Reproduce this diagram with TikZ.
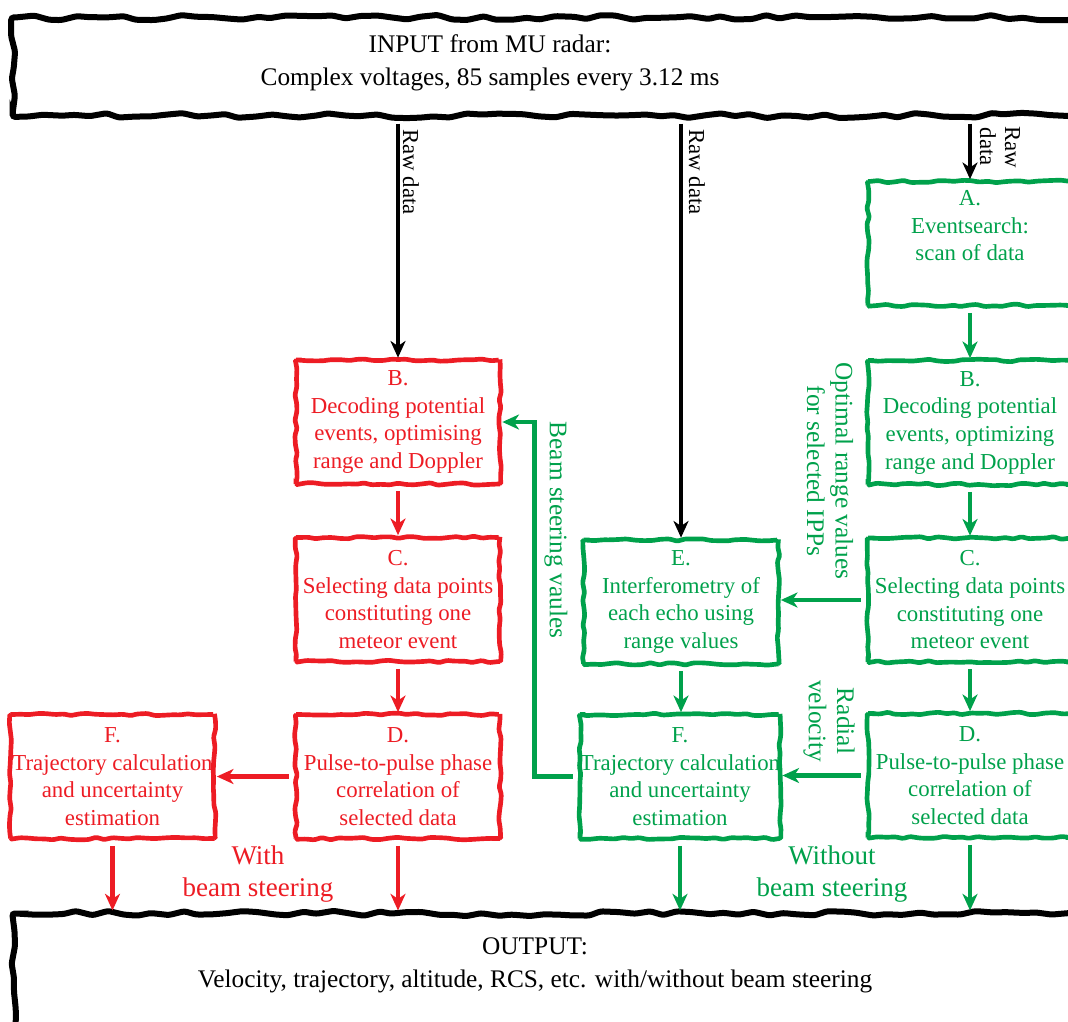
\documentclass[tikz,border=0pt]{standalone}
\usepackage{fontspec}
\setmainfont{Liberation Serif}
\usetikzlibrary{arrows.meta,decorations.pathmorphing}
\definecolor{mured}{RGB}{237,28,36}
\definecolor{mugreen}{RGB}{0,161,75}

\begin{document}
\begin{tikzpicture}[x=0.6pt, y=-0.6pt,
  sketchy/.style={decorate, decoration={random steps, segment length=5pt, amplitude=0.8pt}, rounded corners=0.8pt},
  stepbox/.style={sketchy, draw=#1, text=#1, line width=2.8pt, align=center, inner xsep=0pt,
    minimum width=122.4pt, minimum height=74.4pt, font=\fontsize{13.7}{16.6}\selectfont},
  iobox/.style={draw=black, line width=3.6pt, decorate, decoration={random steps, segment length=9pt, amplitude=1.6pt},
    rounded corners=1.5pt, minimum width=652pt},
  iotext/.style={align=center, font=\fontsize{15.2}{20}\selectfont},
  flow/.style={draw=#1, line width=2.8pt, shorten <=3pt, -{Stealth[length=10pt, width=9pt, inset=3pt]}},
  sidelabel/.style={text=#1, rotate=-90, align=center, font=\fontsize{15.2}{17}\selectfont},
  rawlabel/.style={rotate=-90, align=center, font=\fontsize{13.7}{15}\selectfont},
  steerlabel/.style={text=#1, align=center, font=\fontsize{16.2}{19.2}\selectfont}]
\useasboundingbox (0,0) rectangle (1068,1021);

\node[iobox, minimum height=58.8pt] (input) at (556,66.5) {};
\node[iotext] (intext) at (490,63) {INPUT from MU radar:\\Complex voltages, 85 samples every 3.12 ms};

\node[stepbox=mured] (redB) at (398,422) {B.\\Decoding potential\\events, optimising\\range and Doppler};
\node[stepbox=mured] (redC) at (398,599.5) {C.\\Selecting data points\\constituting one\\meteor event};
\node[stepbox=mured] (redD) at (398,776.5) {D.\\Pulse-to-pulse phase\\correlation of\\selected data};
\node[stepbox=mured] (redF) at (112.5,776.5) {F.\\Trajectory calculation\\and uncertainty\\estimation};

\node[stepbox=mugreen, minimum width=117pt] (grnE) at (681,602) {E.\\Interferometry of\\each echo using\\range values};
\node[stepbox=mugreen, minimum width=118.8pt] (grnF) at (680,776.5) {F.\\Trajectory calculation\\and uncertainty\\estimation};

\node[stepbox=mugreen] (grnA) at (970,243.5) {A.\\Eventsearch:\\scan of data\\\strut};
\node[stepbox=mugreen] (grnB) at (970,422.5) {B.\\Decoding potential\\events, optimizing\\range and Doppler};
\node[stepbox=mugreen] (grnC) at (970,600) {C.\\Selecting data points\\constituting one\\meteor event};
\node[stepbox=mugreen] (grnD) at (970,775.5) {D.\\Pulse-to-pulse phase\\correlation of\\selected data};

\node[iobox, minimum height=75.9pt] (output) at (557,976.75) {};
\node[iotext] (outtext) at (535,965) {OUTPUT:\\Velocity, trajectory, altitude, RCS, etc. with/without beam steering};

\draw[flow=black, line width=2.3pt] (input.south -| redB) -- (redB);
\draw[flow=black, line width=2.3pt] (input.south -| grnE) -- (grnE);
\draw[flow=black, line width=2.3pt] (input.south -| grnA) -- (grnA);

\draw[flow=mured] (redB) -- (redC);
\draw[flow=mured] (redC) -- (redD);
\draw[flow=mured] (redD.west) -- (redD.west -| redF.east);
\draw[flow=mured] (redF) -- (redF |- output.north);
\draw[flow=mured] (redD) -- (redD |- output.north);

\draw[flow=mugreen] (grnA) -- (grnB);
\draw[flow=mugreen] (grnB) -- (grnC);
\draw[flow=mugreen] (grnC) -- (grnD);
\draw[flow=mugreen] (grnC.west) -- (grnC.west -| grnE.east);
\draw[flow=mugreen] (grnD.west) -- (grnD.west -| grnF.east);
\draw[flow=mugreen] (grnE.south) -- (grnE.south |- grnF.north);
\draw[flow=mugreen] (grnF) -- (grnF |- output.north);
\draw[flow=mugreen] (grnD) -- (grnD |- output.north);
\draw[flow=mugreen] (grnF.west) -- ++(-43,0) |- (redB.east);

\node[rawlabel] (rawL) at (411,172) {Raw data};
\node[rawlabel] (rawM) at (697,172) {Raw data};
\node[rawlabel] (rawR) at (1000,147) {Raw\\data};
\node[sidelabel=mugreen] (optlabel) at (830,471) {Optimal range values\\for selected IPPs};
\node[sidelabel=mugreen] (radlabel) at (829,721) {Radial\\velocity};
\node[sidelabel=mugreen] (beamlabel) at (556,530) {Beam steering vaules};
\node[steerlabel=mured] (withlabel) at (258,874) {With\\beam steering};
\node[steerlabel=mugreen] (withoutlabel) at (832,874) {Without\\beam steering};
\end{tikzpicture}
\end{document}
